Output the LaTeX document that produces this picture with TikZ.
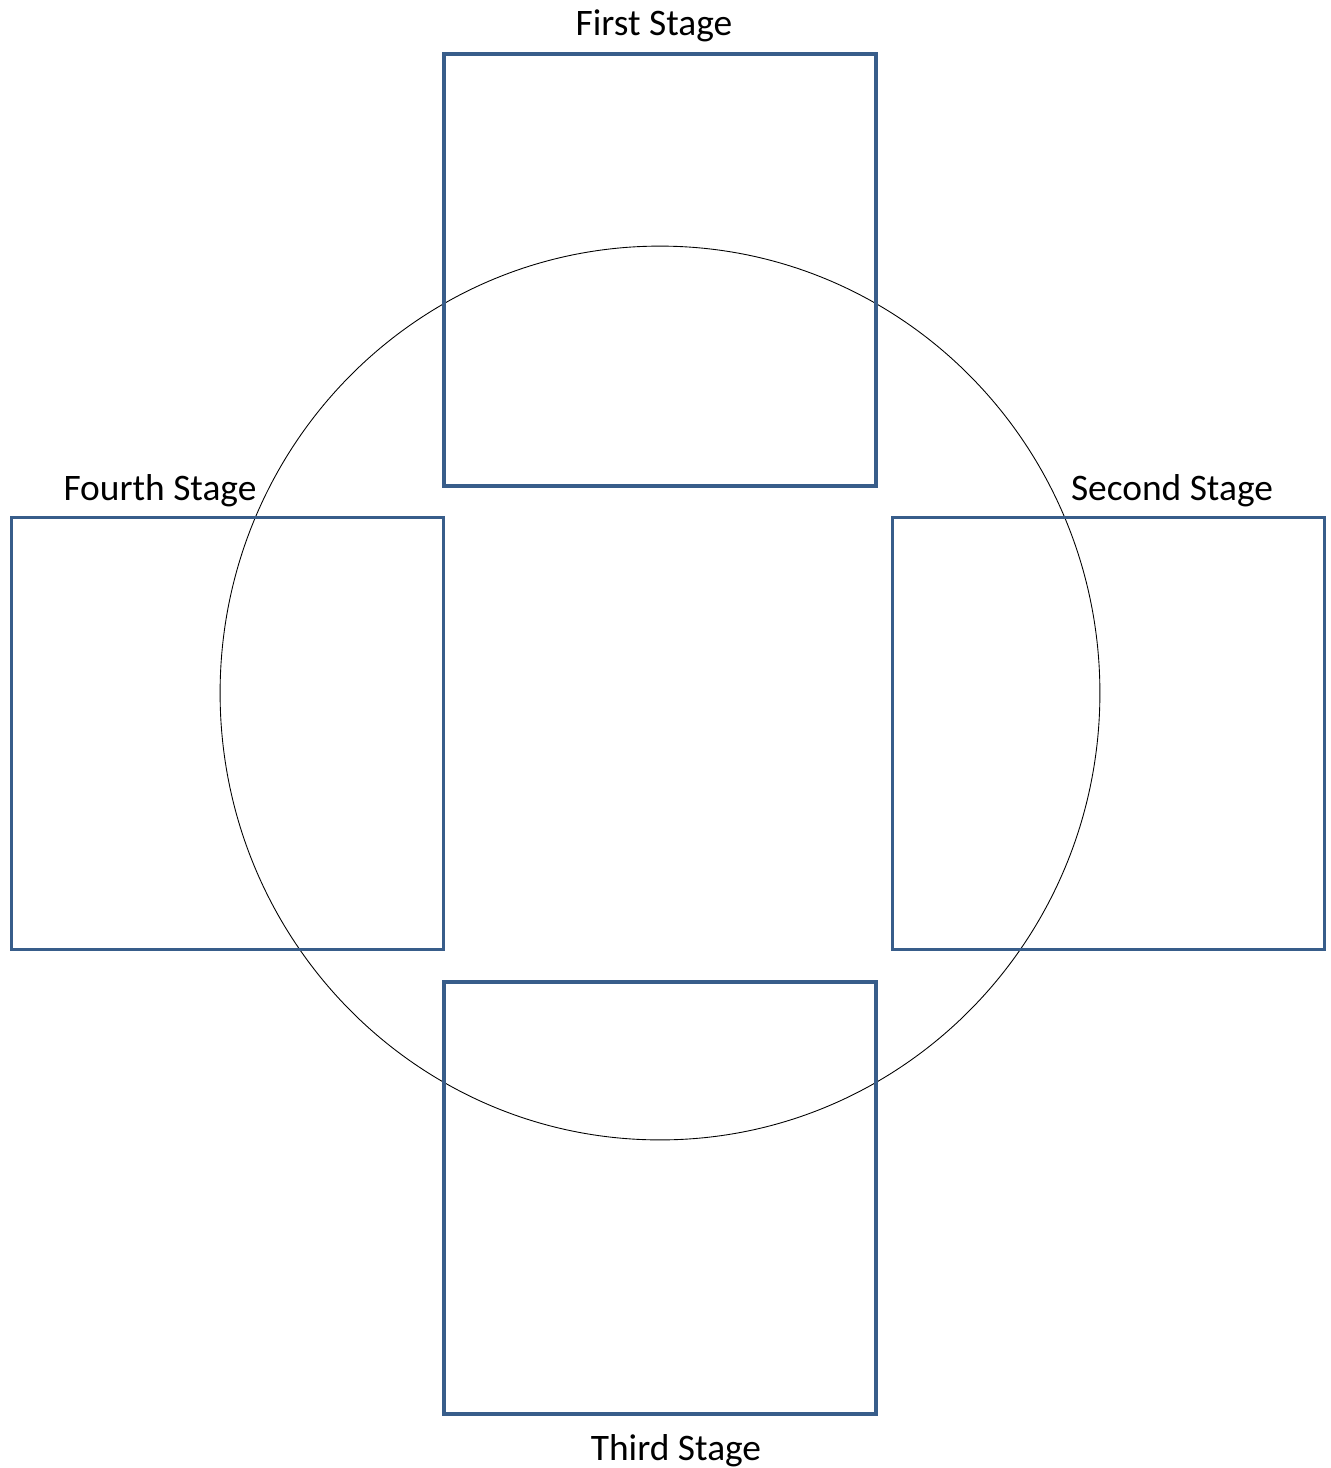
\documentclass[tikz,border=0pt]{standalone}
\usepackage{fontspec}
\setmainfont{Carlito}
\usepackage{tikz}
\usetikzlibrary{positioning}
\definecolor{stageblue}{HTML}{385D8A}

\begin{document}
\begin{tikzpicture}[x=0.02cm,y=-0.02cm,font=\fontsize{21.3}{25}\selectfont,
  stagebox/.style={draw=stageblue,line width=2.2pt,minimum width=8.64cm,minimum height=8.64cm,inner sep=0pt},
  stagelbl/.style={inner sep=0pt}]
 \useasboundingbox (0,0) rectangle (1330,1468);
 % the cycle
 \draw[line width=.5pt] (660,693) ellipse [x radius=8.8cm,y radius=8.94cm];
 % stage boxes
 \node[stagebox] (first) at (660,270) {};
 \node[stagebox] (second) at (1108.5,733.5) {};
 \node[stagebox] (third) at (660,1198) {};
 \node[stagebox] (fourth) at (227.5,733.5) {};
 % labels
 \node[stagelbl] (firstlbl) at (654,26) {First Stage};
 \node[stagelbl] (secondlbl) at (1172,491) {Second Stage};
 \node[stagelbl] (thirdlbl) at (676,1451) {Third Stage};
 \node[stagelbl] (fourthlbl) at (160,491) {Fourth Stage};
\end{tikzpicture}
\end{document}
